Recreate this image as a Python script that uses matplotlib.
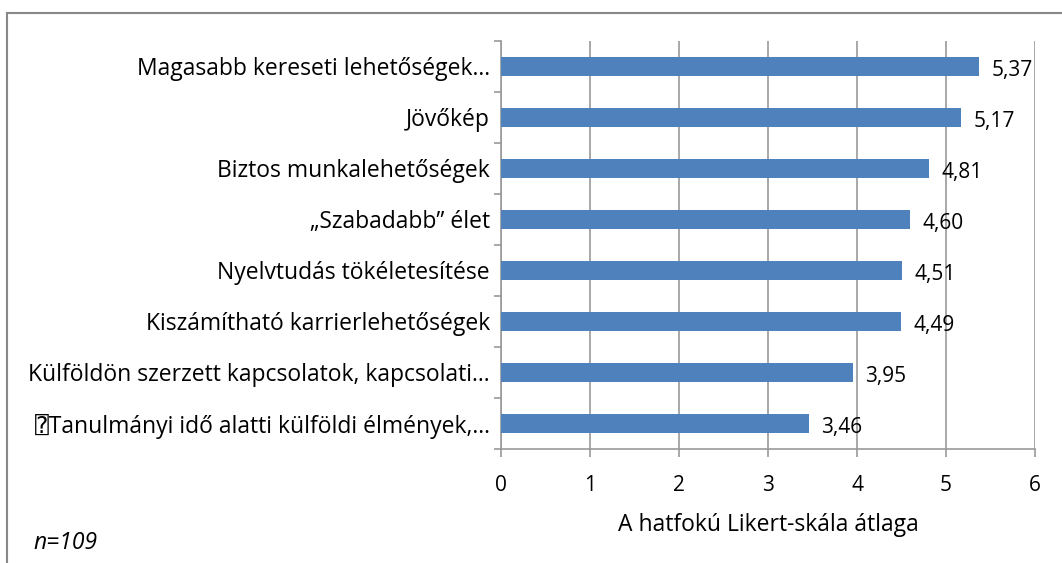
import matplotlib.pyplot as plt
from matplotlib.lines import Line2D
import numpy as np

plt.rcParams['font.family'] = ['Open Sans', 'DejaVu Sans', 'DejaVu Sans Mono', 'Noto Sans CJK SC']

# Adatok (felülről lefelé)
categories = [
    "Magasabb kereseti lehetőségek…",
    "Jövőkép",
    "Biztos munkalehetőségek",
    "„Szabadabb” élet",
    "Nyelvtudás tökéletesítése",
    "Kiszámítható karrierlehetőségek",
    "Külföldön szerzett kapcsolatok, kapcsolati…",
    "\u2370Tanulmányi idő alatti külföldi élmények,…",
]
values = [5.37, 5.17, 4.81, 4.60, 4.51, 4.49, 3.95, 3.46]
xticks = [0, 1, 2, 3, 4, 5, 6]

grid_col = "#999999"
bar_col = "#4f81bd"
fs_txt = 16.5
fs_num = 15

fig = plt.figure(figsize=(10.62, 5.63), dpi=100)
ax = fig.add_axes([0.4718, 0.2025, 0.5028, 0.7247])

y = np.arange(len(categories))[::-1]
ax.barh(y, values, height=0.39, color=bar_col, zorder=3)

for yi, v in zip(y, values):
    ax.annotate(f"{v:.2f}".replace(".", ","), (v, yi), xytext=(9, -3),
                textcoords="offset points", va="center", ha="left",
                fontsize=fs_num, color="black", zorder=4)

ax.set_xlim(0, 6)
ax.set_ylim(-0.5, len(categories) - 0.5)
ax.set_xticks(xticks)
ax.set_xticklabels([str(t) for t in xticks], fontsize=fs_num)
ax.set_yticks(y)
ax.set_yticklabels(categories, fontsize=fs_txt)
ax.set_yticks(np.arange(-0.5, len(categories), 1), minor=True)

ax.tick_params(axis="y", which="major", length=0, pad=8)
ax.tick_params(axis="y", which="minor", length=5, width=1.2, color=grid_col, direction="out")
ax.tick_params(axis="x", length=6, width=1.2, color=grid_col, direction="out", pad=13)

ax.grid(axis="x", color=grid_col, linewidth=1.2, zorder=0)
for s in ["top", "right"]:
    ax.spines[s].set_visible(False)
for s in ["left", "bottom"]:
    ax.spines[s].set_color(grid_col)
    ax.spines[s].set_linewidth(1.2)

ax.set_xlabel("A hatfokú Likert-skála átlaga", fontsize=fs_txt, labelpad=12)

fig.text(33 / 1062, 1 - 543 / 563, "n=109", fontsize=fs_txt, style="italic",
         va="center", ha="left")

# külső keret (bal és felső él)
fig.add_artist(Line2D([7 / 1062, 7 / 1062], [0, 1 - 13 / 563],
                      transform=fig.transFigure, color="#888888", linewidth=1.5))
fig.add_artist(Line2D([7 / 1062, 1], [1 - 13 / 563, 1 - 13 / 563],
                      transform=fig.transFigure, color="#888888", linewidth=1.5))

fig.savefig("out.png", dpi=100)
